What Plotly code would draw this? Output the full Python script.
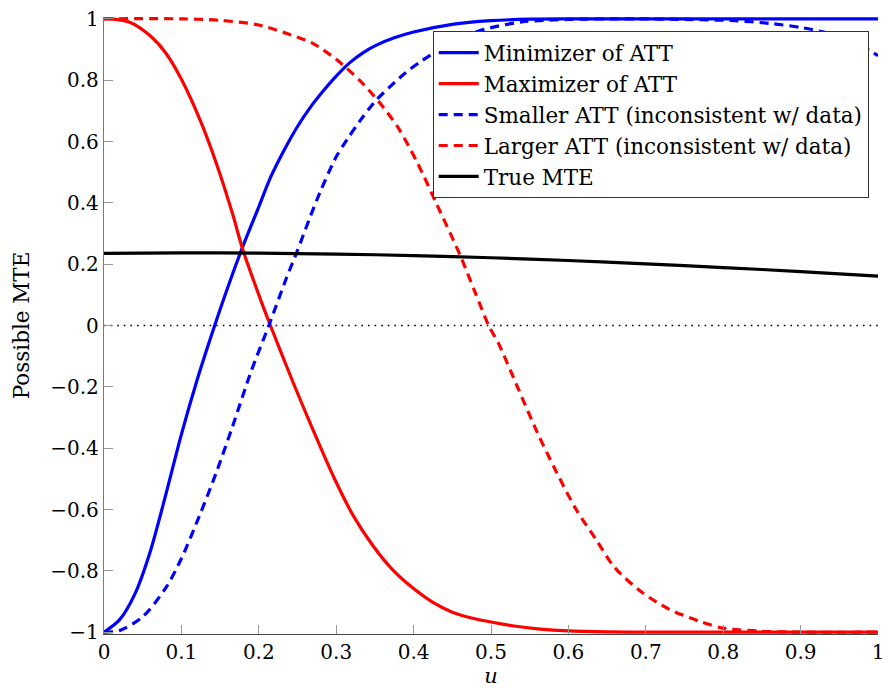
import plotly.graph_objects as go

# ---- data ----
x_min = [0, 0.02, 0.04, 0.06, 0.08, 0.1, 0.12, 0.143, 0.16, 0.18, 0.2, 0.215, 0.233, 0.25,
         0.267, 0.284, 0.3, 0.318, 0.335, 0.35, 0.375, 0.4, 0.45, 0.5, 0.55, 0.6, 0.7,
         0.8, 0.9, 1.0]
y_min = [-1, -0.96, -0.875, -0.735, -0.55, -0.355, -0.18, 0, 0.125, 0.262, 0.387, 0.482,
         0.573, 0.649, 0.713, 0.767, 0.813, 0.858, 0.89, 0.912, 0.938, 0.957, 0.982, 0.994,
         0.999, 1, 1, 1, 1, 1]

x_max = [0, 0.01, 0.034, 0.06, 0.08, 0.1, 0.125, 0.145, 0.166, 0.179, 0.2, 0.215, 0.245,
         0.27, 0.296, 0.322, 0.348, 0.373, 0.4, 0.425, 0.45, 0.475, 0.5, 0.53, 0.56, 0.6,
         0.65, 0.7, 0.8, 0.9, 1.0]
y_max = [1, 1, 0.988, 0.944, 0.888, 0.803, 0.665, 0.53, 0.365, 0.25, 0.1, 0, -0.19,
         -0.34, -0.49, -0.62, -0.72, -0.797, -0.858, -0.903, -0.935, -0.954, -0.967, -0.98,
         -0.989, -0.996, -0.999, -1, -1, -1, -1]

x_small = [0, 0.02, 0.05, 0.08, 0.1, 0.125, 0.145, 0.166, 0.19, 0.213, 0.235, 0.25, 0.265,
           0.28, 0.3, 0.315, 0.33, 0.35, 0.37, 0.39, 0.41, 0.45, 0.486, 0.54, 0.6, 0.69,
           0.75, 0.815, 0.86, 0.9, 0.94, 0.98, 1.0]
y_small = [-1, -0.995, -0.95, -0.855, -0.76, -0.61, -0.48, -0.33, -0.15, 0, 0.15, 0.245,
           0.345, 0.44, 0.55, 0.61, 0.665, 0.73, 0.78, 0.825, 0.862, 0.925, 0.962, 0.99,
           0.998, 1.0, 0.998, 0.994, 0.985, 0.972, 0.95, 0.91, 0.88]

x_large = [0, 0.1, 0.15, 0.2, 0.25, 0.27, 0.3, 0.33, 0.355, 0.38, 0.405, 0.43, 0.46, 0.48,
           0.497, 0.51, 0.535, 0.56, 0.585, 0.61, 0.635, 0.66, 0.695, 0.73, 0.77, 0.8, 0.85,
           0.9, 1.0]
y_large = [1, 1, 0.995, 0.98, 0.94, 0.92, 0.868, 0.8, 0.73, 0.645, 0.53, 0.395, 0.23, 0.105,
           0, -0.06, -0.205, -0.35, -0.48, -0.6, -0.695, -0.79, -0.87, -0.925, -0.965, -0.987,
           -0.997, -1, -1]

x_true = [0, 0.1, 0.2, 0.3, 0.4, 0.5, 0.6, 0.7, 0.8, 0.9, 1.0]
y_true = [0.235, 0.237, 0.236, 0.233, 0.228, 0.221, 0.212, 0.201, 0.189, 0.176, 0.161]

x_zero = [0, 1]
y_zero = [0, 0]

x_tickvals = [0, 0.1, 0.2, 0.3, 0.4, 0.5, 0.6, 0.7, 0.8, 0.9, 1]
x_ticktext = ["0", "0.1", "0.2", "0.3", "0.4", "0.5", "0.6", "0.7", "0.8", "0.9", "1"]
y_tickvals = [-1, -0.8, -0.6, -0.4, -0.2, 0, 0.2, 0.4, 0.6, 0.8, 1]
y_ticktext = ["\u22121", "\u22120.8", "\u22120.6", "\u22120.4", "\u22120.2", "0",
              "0.2", "0.4", "0.6", "0.8", "1"]

FONT = "DejaVu Serif"

fig = go.Figure()
fig.add_trace(go.Scatter(x=x_zero, y=y_zero, mode="lines", showlegend=False,
                         line=dict(color="black", width=1.6, dash="1.6px,5px")))
fig.add_trace(go.Scatter(x=x_min, y=y_min, mode="lines", name="Minimizer of ATT",
                         line=dict(color="#0000ff", width=3.2, shape="spline", smoothing=0.8)))
fig.add_trace(go.Scatter(x=x_max, y=y_max, mode="lines", name="Maximizer of ATT",
                         line=dict(color="#ff0000", width=3.2, shape="spline", smoothing=0.8)))
fig.add_trace(go.Scatter(x=x_small, y=y_small, mode="lines",
                         name="Smaller ATT (inconsistent w/ data)",
                         line=dict(color="#0000ff", width=3.2, dash="9px,6px",
                                   shape="spline", smoothing=0.8)))
fig.add_trace(go.Scatter(x=x_large, y=y_large, mode="lines",
                         name="Larger ATT (inconsistent w/ data)",
                         line=dict(color="#ff0000", width=3.2, dash="9px,6px",
                                   shape="spline", smoothing=0.8)))
fig.add_trace(go.Scatter(x=x_true, y=y_true, mode="lines", name="True MTE",
                         line=dict(color="black", width=3.2, shape="spline", smoothing=0.8)))

fig.update_layout(
    width=891, height=688,
    margin=dict(l=104, r=7, t=16.5, b=53),
    paper_bgcolor="white", plot_bgcolor="white",
    font=dict(family=FONT, size=20, color="black"),
    showlegend=True,
    legend=dict(x=0.988, y=0.977, xanchor="right", yanchor="top",
                bgcolor="white", bordercolor="#333", borderwidth=1,
                font=dict(family=FONT, size=21.5), tracegroupgap=0,
                itemwidth=40),
    xaxis=dict(range=[0, 1], showgrid=False, zeroline=False,
               showline=True, linecolor="#444", linewidth=1.3,
               ticks="inside", ticklen=9, tickcolor="#999", tickwidth=1.2,
               tickvals=x_tickvals, ticktext=x_ticktext,
               tickfont=dict(family=FONT, size=20),
               title=dict(text="<i>u</i>", font=dict(family=FONT, size=21), standoff=2)),
    yaxis=dict(range=[-1.006, 1.006], showgrid=False, zeroline=False,
               showline=True, linecolor="#7a7a7a", linewidth=1.3,
               ticks="inside", ticklen=9, tickcolor="#999", tickwidth=1.2,
               tickvals=y_tickvals, ticktext=y_ticktext,
               tickfont=dict(family=FONT, size=20),
               title=dict(text="Possible MTE", font=dict(family=FONT, size=21.5), standoff=14)),
)

fig.write_html("out.html")
